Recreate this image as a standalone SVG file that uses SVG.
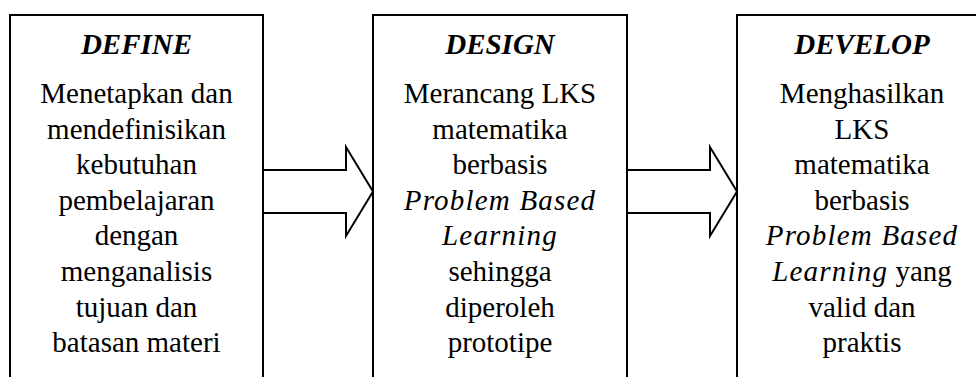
<svg xmlns="http://www.w3.org/2000/svg" width="976" height="377" viewBox="0 0 976 377">
  <style>
    .box { fill: #ffffff; stroke: #000000; stroke-width: 2; }
    .arrow { fill: #ffffff; stroke: #000000; stroke-width: 2; stroke-linejoin: miter; }
    text { font-family: "Liberation Serif", "Times New Roman", serif; fill: #000000; text-anchor: middle; }
    .title { font-size: 29px; font-weight: bold; font-style: italic; }
    .body { font-size: 29px; }
    .it { font-style: italic; letter-spacing: 1.2px; }
  </style>

  <!-- Stage 1 -->
  <g id="define">
    <rect class="box" x="10" y="15" width="253" height="400"/>
    <text class="title" x="136.5" y="54">DEFINE</text>
    <text class="body" x="136.5" y="103">Menetapkan dan</text>
    <text class="body" x="136.5" y="138.6">mendefinisikan</text>
    <text class="body" x="136.5" y="174.2">kebutuhan</text>
    <text class="body" x="136.5" y="209.8">pembelajaran</text>
    <text class="body" x="136.5" y="245.4">dengan</text>
    <text class="body" x="136.5" y="281">menganalisis</text>
    <text class="body" x="136.5" y="316.6">tujuan dan</text>
    <text class="body" x="136.5" y="352.2">batasan materi</text>
  </g>

  <!-- Stage 2 -->
  <g id="design">
    <rect class="box" x="373" y="15" width="254" height="400"/>
    <text class="title" x="500" y="54">DESIGN</text>
    <text class="body" x="500" y="103">Merancang LKS</text>
    <text class="body" x="500" y="138.6">matematika</text>
    <text class="body" x="500" y="174.2">berbasis</text>
    <text class="body it" x="500" y="209.8">Problem Based</text>
    <text class="body it" x="500" y="245.4">Learning</text>
    <text class="body" x="500" y="281">sehingga</text>
    <text class="body" x="500" y="316.6">diperoleh</text>
    <text class="body" x="500" y="352.2">prototipe</text>
  </g>

  <!-- Stage 3 -->
  <g id="develop">
    <rect class="box" x="737" y="15" width="254" height="400"/>
    <text class="title" x="862" y="54">DEVELOP</text>
    <text class="body" x="862" y="103">Menghasilkan</text>
    <text class="body" x="862" y="138.6">LKS</text>
    <text class="body" x="862" y="174.2">matematika</text>
    <text class="body" x="862" y="209.8">berbasis</text>
    <text class="body it" x="862" y="245.4">Problem Based</text>
    <text class="body" x="862" y="281"><tspan class="it">Learning</tspan> yang</text>
    <text class="body" x="862" y="316.6">valid dan</text>
    <text class="body" x="862" y="352.2">praktis</text>
  </g>

  <!-- Block arrows between stages -->
  <g id="connectors">
    <polygon class="arrow" points="263,170 346,170 346,147 373,191.5 346,236 346,213 263,213"/>
    <polygon class="arrow" points="627,170 710,170 710,147 737,191.5 710,236 710,213 627,213"/>
  </g>
</svg>
